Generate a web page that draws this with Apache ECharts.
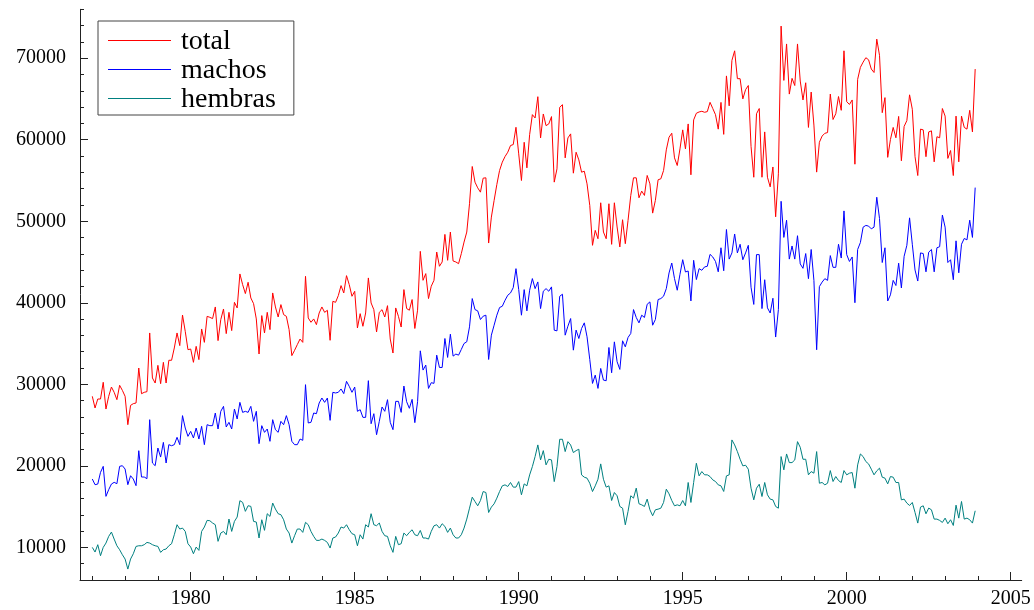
<!DOCTYPE html>
<html>
<head>
<meta charset="utf-8">
<script src="https://cdn.jsdelivr.net/npm/echarts@6/dist/echarts.min.js"></script>
<style>html,body{margin:0;padding:0;background:#fff}#c{width:1034px;height:610px}</style>
</head>
<body>
<div id="c"></div>
<script>
// Monthly series, January 1977 to December 2003
const startYear = 1977;
const seriesNames = ['total', 'machos', 'hembras'];
const total = [
28530,27100,28200,28200,30250,26970,28530,29670,29020,28120,29880,29260,
28530,25050,27420,27630,27710,32000,28850,29020,29100,36300,30780,30160,
32330,30080,32700,30160,32950,32950,34460,36300,34750,38500,36500,34250,
34330,32700,34660,33030,36790,35150,38340,38220,38060,39490,35360,37940,
39240,36220,38830,36590,40060,39370,43540,42230,41130,
42520,40590,39900,38020,33720,38430,36300,38830,36710,41210,
39490,38260,39780,38550,38340,36710,33520,34170,34870,35560,
35150,43250,38140,37610,38020,37320,38750,39490,38830,39080,
35400,40180,40060,40880,42110,41210,43330,42230,40800,41410,
36910,38670,37120,38750,43050,39980,39160,36420,38830,39160,
38260,39650,35560,33840,39370,38340,37030,
41620,39300,39090,40400,36850,39090,46310,42760,43580,40520,
42030,42760,46230,44480,45010,48390,45210,48680,45130,45010,
44800,46030,47450,48680,52150,56720,54800,54100,53570,55290,
55330,47330,50510,52550,54510,56230,57250,57940,58470,59290,
59410,61530,58270,55000,59690,56550,60630,63080,62670,65280,
60220,63160,61730,61940,62840,54800,
56430,63980,64300,57780,60220,60720,55900,58470,57530,56020,
56140,54590,51940,47050,48880,47860,52270,48680,47860,52150,
47170,52270,49300,46850,50190,47250,50110,53170,55330,55330,
52880,53700,53170,55620,54590,51000,52560,55090,55210,56230,
58760,60310,60800,57780,56840,58880,61210,58880,61940,55700,
62430,63250,63410,63490,63370,63450,64590,
63830,63070,61300,64580,60660,67830,64160,69730,70910,67490,
67490,65010,66140,66650,59190,55400,63190,63830,55400,60960,
55400,54220,56660,50550,55820,73940,67280,71750,65600,67530,
66650,71750,67200,64880,66990,61510,65850,61800,56030,59690,
60450,60790,60880,65600,62480,63190,65300,63610,70910,64670,
64330,64880,57000,
67410,68880,69520,70060,69810,68670,68250,72340,70360,63320,
65170,57840,60030,61510,60240,62860,57420,61630,62350,65510,
63740,57920,55610,61300,61210,57920,60960,61090,57290,60370,
60240,63830,62900,57710,58680,55610,62900,57290,62900,61510,
61300,63610,60960,68670
];
const machos = [
18385,17690,17770,19200,19940,16260,17080,17770,17980,17810,
19940,20020,19610,17690,18790,18385,17570,21860,18630,18630,
18430,25665,20350,20020,22190,21080,22880,20350,22600,22470,
22600,23500,22600,26160,24640,23620,24230,23420,24640,23290,
24850,22600,25050,24930,24930,26480,24520,26690,27300,24770,
25340,24520,26970,25750,27790,26560,26690,
26560,27300,25460,26690,22720,24930,24110,24520,23010,25665,
24440,24110,25460,25050,26160,25050,23010,22600,22600,23290,
23130,29960,25260,25340,26480,26400,27710,28320,27790,28320,
25580,29020,28940,29020,29430,28860,30370,29750,29020,29670,
26690,26890,25950,25950,30450,25170,26400,23820,25460,27220,
26690,28120,25340,24440,27910,27910,26560,
29790,27870,27060,28160,25300,27870,34110,31750,32360,29500,
30200,30120,33580,32070,32070,35620,33300,36150,33460,33710,
33580,34280,35010,35220,37050,40520,39170,39010,37950,38360,
38480,33050,36030,37250,38480,39420,39580,40310,40930,41210,
41860,44190,41620,38480,41620,39010,41540,42970,41740,42560,
39290,41420,41740,41420,41950,36640,
36560,40800,41050,36030,37130,38070,34190,36650,35620,36850,
37540,35830,33050,30110,31130,29500,31950,30520,30440,34520,
31420,35210,32770,31830,35340,34600,35750,36240,39170,38200,
37540,38480,38200,39820,40110,37250,37950,40400,40520,40810,
41740,43660,44880,42970,41540,43500,45290,43780,43900,40230,
45210,42850,44190,43990,44400,44480,45940,
45620,45070,43800,46750,43930,48990,45360,46120,48440,46120,
47180,45280,46120,47050,41910,39800,45910,45910,39290,42830,
39380,38750,40560,35800,39170,52450,48020,50130,45360,46970,
45360,48230,44770,44230,46040,42960,46540,42750,34240,41990,
42540,42960,42750,45790,44350,44350,47180,45490,51270,45910,
45070,45620,40010,
46540,47390,49280,49490,49410,49070,49280,52950,50340,44940,
46750,40220,40980,42750,42120,44860,41820,45700,47050,50420,
47180,44020,42670,46120,46040,43800,46210,46540,43800,46750,
46880,50760,49280,44940,45280,42830,47600,43680,47180,47890,
47720,50130,48020,54130
];
const hembras = [
10000,9430,10330,8980,10000,10530,11350,11880,11020,10200,
9710,9100,8570,7340,8570,9220,10120,10200,10200,10330,
10610,10530,10330,10200,10120,9390,9710,9800,10200,10450,
11550,12780,12250,12370,11960,10450,10040,9220,10040,9630,
11960,12500,13310,13270,12990,12780,10740,11760,11960,11550,
13480,11960,13190,13720,15730,15520,14420,
15110,15030,13190,13110,11150,13390,12090,14130,13800,15440,
14700,14130,14010,13390,12250,11760,10530,11430,12250,12250,
11840,13070,12780,11960,11350,10860,10860,11020,10860,10610,
9920,11150,11270,11760,12500,12370,12780,12170,11680,11550,
10200,11550,11020,12780,12500,14130,12780,12660,12990,11960,
11430,11350,10200,9390,11350,10330,10450,
11760,11430,11840,12160,11550,11430,12080,11150,11150,11020,
11960,12650,12780,12370,12900,12570,11840,12370,11550,11150,
11150,11550,12370,13470,14810,16160,15630,15100,15750,16850,
16730,14280,14940,15340,16040,16850,17550,17670,17470,17960,
17390,17390,18070,16450,17790,17550,18890,19910,21140,22570,
20730,21870,20120,20810,20730,18070,
19910,23260,23260,21750,22970,22560,21630,21870,22040,18890,
18610,18490,17870,16850,17550,18360,20240,18360,17390,17550,
15750,16730,16330,15020,14810,12770,14410,16330,16040,17270,
15350,15220,15020,15920,14610,13880,14610,14690,14810,15510,
17140,16570,15750,15100,15220,15100,15750,15100,17960,15510,
17960,20320,18770,19300,
18900,18900,18690,18280,18080,17670,17550,16860,18770,18900,
23180,22570,21750,20810,20000,20080,19590,17260,15830,17260,
17750,16240,17960,16450,15920,15830,15020,14810,21140,19510,
21460,20400,20400,20730,22970,22280,20810,20810,18900,19300,
19100,21750,17870,17960,17670,17870,19420,18080,18690,18200,
17960,19420,18900,19100,19180,17260,20120,21460,21140,20530,
20240,19590,18900,19390,19720,18610,18490,17790,18690,18610,
17960,17960,15830,15920,15430,15140,15510,14280,12980,14940,
15100,14120,14820,14610,13470,13470,13310,13060,13590,12900,
13390,12690,15180,13590,15630,13470,13590,13390,12980,14490
];
const xMajorTicks = [1980, 1985, 1990, 1995, 2000, 2005];
const xMinorTicks = [1977,1978,1979,1980,1981,1982,1983,1984,1985,1986,1987,1988,1989,1990,1991,1992,1993,1994,1995,1996,1997,1998,1999,2000,2001,2002,2003,2004,2005];
const yMajorTicks = [10000, 20000, 30000, 40000, 50000, 60000, 70000];
const yMinorTicks = [6000,8000,10000,12000,14000,16000,18000,20000,22000,24000,26000,28000,30000,32000,34000,36000,38000,40000,42000,44000,46000,48000,50000,52000,54000,56000,58000,60000,62000,64000,66000,68000,70000,72000,74000,76000];
const colors = ['#ff0000', '#0000ff', '#008080'];

const toPoints = arr => arr.map((v, i) => [startYear + i / 12, v]);
const seriesData = [total, machos, hembras];

const FONT = 'Liberation Serif';
const X_MIN = 1976.625, X_MAX = 2005.335, Y_MIN = 6000, Y_MAX = 76000;

// legend layout (box and key lines)
const LEG_LEFT = 98, LEG_TOP = 21, LEG_ROW = 29;
const KEY_X0 = 108, KEY_X1 = 171, KEY_Y0 = 40.5;

const chart = echarts.init(document.getElementById('c'), null, {renderer: 'canvas'});
chart.setOption({
  animation: false,
  color: colors,
  backgroundColor: '#ffffff',
  grid: {left: 80, right: 12.3, top: 9.3, bottom: 30, containLabel: false},
  legend: {
    orient: 'vertical',
    left: LEG_LEFT, top: LEG_TOP,
    padding: [6, 18, 1, 10],
    itemGap: 0,
    itemWidth: 63,
    itemHeight: 1,
    icon: 'rect',
    itemStyle: {opacity: 0},
    lineStyle: {opacity: 0},
    borderColor: '#444',
    borderWidth: 1,
    textStyle: {fontFamily: FONT, fontSize: 28, color: '#000', lineHeight: LEG_ROW, padding: [0, 0, 0, 5]},
    data: seriesNames
  },
  graphic: seriesNames.map((name, k) => ({
    type: 'line',
    z: 100,
    silent: true,
    shape: {x1: KEY_X0, x2: KEY_X1, y1: KEY_Y0 + k * LEG_ROW, y2: KEY_Y0 + k * LEG_ROW},
    style: {stroke: colors[k], lineWidth: 1.2}
  })),
  xAxis: [
    {
      type: 'value', min: X_MIN, max: X_MAX,
      axisLine: {show: true, lineStyle: {color: '#222', width: 1}},
      axisTick: {show: true, inside: true, length: 4, customValues: xMinorTicks, lineStyle: {color: '#222'}},
      axisLabel: {show: false},
      splitLine: {show: false}
    },
    {
      type: 'value', min: X_MIN, max: X_MAX, position: 'bottom',
      axisLine: {show: false},
      axisTick: {show: true, inside: true, length: 8, customValues: xMajorTicks, lineStyle: {color: '#222'}},
      axisLabel: {show: true, customValues: xMajorTicks, margin: 9, fontFamily: FONT, fontSize: 20, color: '#000',
        formatter: v => String(Math.round(v))},
      splitLine: {show: false}
    }
  ],
  yAxis: [
    {
      type: 'value', min: Y_MIN, max: Y_MAX,
      axisLine: {show: true, lineStyle: {color: '#222', width: 1}},
      axisTick: {show: true, inside: true, length: 4, customValues: yMinorTicks, lineStyle: {color: '#222'}},
      axisLabel: {show: false},
      splitLine: {show: false}
    },
    {
      type: 'value', min: Y_MIN, max: Y_MAX, position: 'left',
      axisLine: {show: false},
      axisTick: {show: true, inside: true, length: 8, customValues: yMajorTicks, lineStyle: {color: '#222'}},
      axisLabel: {show: true, customValues: yMajorTicks, margin: 14, fontFamily: FONT, fontSize: 20, color: '#000',
        formatter: v => String(Math.round(v))},
      splitLine: {show: false}
    }
  ],
  series: seriesNames.map((name, k) => ({
    name: name,
    type: 'line',
    xAxisIndex: 0, yAxisIndex: 0,
    data: toPoints(seriesData[k]),
    showSymbol: false,
    symbol: 'none',
    lineStyle: {color: colors[k], width: 1},
    itemStyle: {color: colors[k]},
    emphasis: {disabled: true}
  }))
});
</script>
</body>
</html>
